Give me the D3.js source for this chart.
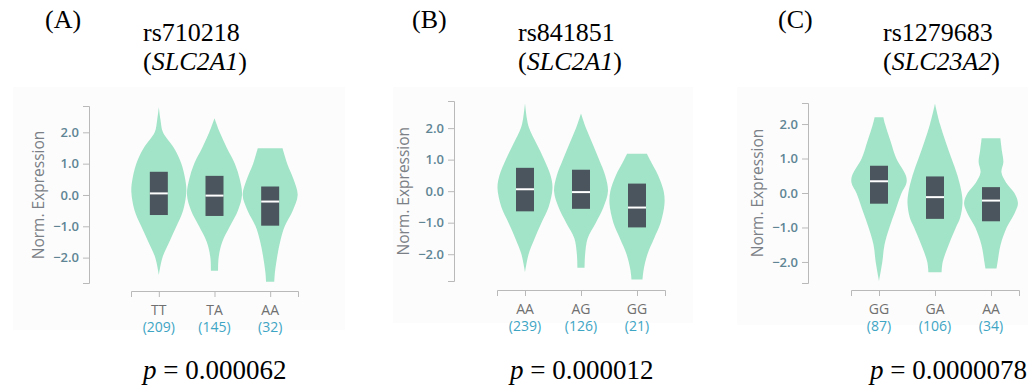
<!DOCTYPE html>
<html>
<head>
<meta charset="utf-8">
<script src="https://cdn.jsdelivr.net/npm/d3@7"></script>
<style>
  body { margin: 0; background: #fff; }
  svg { display: block; }
</style>
</head>
<body>
<div id="chart"></div>
<script>
// Panel texts
var panelLabels = ["(A)", "(B)", "(C)"];
var snps = ["rs710218", "rs841851", "rs1279683"];
var genes = ["SLC2A1", "SLC2A1", "SLC23A2"];
var pValues = ["0.000062", "0.000012", "0.0000078"];

// Genotype groups and sample counts
var genotypes = [["TT", "TA", "AA"], ["AA", "AG", "GG"], ["GG", "GA", "AA"]];
var counts = [[209, 145, 32], [239, 126, 21], [87, 106, 34]];

// Y axis
var yTicks = [-2, -1, 0, 1, 2];
var yDomains = [[-2.81, 2.84], [-2.85, 2.86], [-2.61, 2.61]];

// Box stats [q1, median, q3]
var boxes = [
  [[-0.64, 0.05, 0.74], [-0.67, -0.02, 0.61], [-0.98, -0.21, 0.27]],
  [[-0.64, 0.06, 0.74], [-0.56, -0.03, 0.68], [-1.15, -0.52, 0.24]],
  [[-0.31, 0.34, 0.79], [-0.75, -0.12, 0.48], [-0.82, -0.22, 0.17]]
];

// Violin profiles [value, relative density]
var violins = [
  [
    [[2.8, 0], [2.4, 0.06], [2.0, 0.15], [1.5, 0.55], [1.0, 0.82], [0.5, 0.96], [0.1, 1.0], [-0.5, 0.88], [-1.0, 0.64], [-1.5, 0.38], [-2.0, 0.13], [-2.55, 0]],
    [[2.45, 0], [2.0, 0.19], [1.5, 0.45], [1.0, 0.74], [0.5, 0.92], [0.0, 1.0], [-0.5, 0.85], [-1.0, 0.56], [-1.5, 0.28], [-2.0, 0.15], [-2.42, 0.13]],
    [[1.49, 0.45], [1.0, 0.62], [0.5, 0.85], [0.0, 1.0], [-0.5, 0.82], [-1.0, 0.53], [-1.5, 0.36], [-2.0, 0.25], [-2.5, 0.17], [-2.77, 0.15]]
  ],
  [
    [[2.79, 0], [2.3, 0.07], [2.0, 0.15], [1.5, 0.42], [1.0, 0.7], [0.5, 0.93], [0.1, 1.0], [-0.5, 0.86], [-1.0, 0.6], [-1.5, 0.35], [-2.0, 0.13], [-2.57, 0]],
    [[2.46, 0], [2.0, 0.18], [1.5, 0.42], [1.0, 0.66], [0.5, 0.88], [0.0, 0.98], [-0.5, 0.82], [-1.0, 0.54], [-1.5, 0.24], [-2.0, 0.15], [-2.43, 0.13]],
    [[1.19, 0.36], [1.0, 0.47], [0.5, 0.77], [0.0, 0.97], [-0.4, 1.0], [-1.0, 0.86], [-1.5, 0.62], [-2.0, 0.38], [-2.5, 0.24], [-2.8, 0.2]]
  ],
  [
    [[2.2, 0.16], [2.0, 0.22], [1.5, 0.42], [1.0, 0.63], [0.5, 0.98], [0.3, 1.0], [0.0, 0.82], [-0.5, 0.6], [-1.0, 0.38], [-1.5, 0.2], [-2.0, 0.12], [-2.55, 0]],
    [[2.59, 0], [2.0, 0.18], [1.5, 0.38], [1.0, 0.6], [0.5, 0.82], [0.0, 0.97], [-0.3, 1.0], [-0.7, 0.92], [-1.0, 0.76], [-1.5, 0.5], [-2.0, 0.28], [-2.3, 0.24]],
    [[1.59, 0.34], [1.2, 0.4], [0.9, 0.45], [0.6, 0.38], [0.3, 0.55], [0.0, 0.85], [-0.3, 0.98], [-0.6, 0.85], [-1.0, 0.57], [-1.5, 0.35], [-2.0, 0.24], [-2.19, 0.2]]
  ]
];

var w = 1031;
var h = 385;

// Layout of each panel
var panels = [
  { bg: [13, 87, 332, 243], axisX: 89, yRange: [283, 106], xAxisY: 291, xRange: [131, 298], labelX: 45, titleX: 143, pX: 143 },
  { bg: [393, 87, 300, 236], axisX: 454, yRange: [281, 101], xAxisY: 290, xRange: [497, 665], labelX: 412, titleX: 518, pX: 510 },
  { bg: [737, 87, 291, 238], axisX: 808, yRange: [283, 103], xAxisY: 290, xRange: [851, 1019], labelX: 778, titleX: 883, pX: 870 }
];

var svg = d3.select("#chart").append("svg").attr("width", w).attr("height", h);

var widthScale = d3.scaleLinear().domain([0, 1]).range([0, 27.5]);
var sans = "'Open Sans', sans-serif";
var serif = "'Liberation Serif', 'Times New Roman', serif";

panels.forEach(function (p, i) {
  var g = svg.append("g");

  g.append("rect")
    .attr("x", p.bg[0]).attr("y", p.bg[1])
    .attr("width", p.bg[2]).attr("height", p.bg[3])
    .attr("fill", "#fcfcfc");

  var y = d3.scaleLinear().domain(yDomains[i]).range(p.yRange);
  var x = d3.scalePoint().domain(genotypes[i]).range(p.xRange).padding(0.5);

  // violins
  genotypes[i].forEach(function (gt, j) {
    var cx = x(gt);
    var area = d3.area()
      .y(function (d) { return y(d[0]); })
      .x0(function (d) { return cx - widthScale(d[1]); })
      .x1(function (d) { return cx + widthScale(d[1]); })
      .curve(d3.curveCatmullRom);
    g.append("path")
      .datum(violins[i][j])
      .attr("d", area)
      .attr("fill", "#a2e4c8");

    var b = boxes[i][j];
    g.append("rect")
      .attr("x", cx - 9)
      .attr("y", y(b[2]))
      .attr("width", 18)
      .attr("height", y(b[0]) - y(b[2]))
      .attr("fill", "#4b555d");
    g.append("line")
      .attr("x1", cx - 9).attr("x2", cx + 9)
      .attr("y1", y(b[1])).attr("y2", y(b[1]))
      .attr("stroke", "#fff")
      .attr("stroke-width", 2);
  });

  // y axis
  var yAxis = g.append("g")
    .attr("transform", "translate(" + p.axisX + ",0)")
    .call(d3.axisLeft(y).tickValues(yTicks).tickSize(6).tickSizeOuter(6).tickFormat(d3.format(".1f")));
  yAxis.selectAll("path, line").attr("stroke", "#b9b9b9");
  yAxis.selectAll("text")
    .attr("fill", "#5f8595")
    .style("font-family", sans)
    .style("font-size", "13px")
    .style("font-weight", "600")
    .attr("x", -10);

  g.append("text")
    .attr("transform", "translate(" + (p.axisX - 50) + "," + y(0) + ") rotate(-90)")
    .attr("text-anchor", "middle")
    .attr("dy", "0.35em")
    .attr("fill", "#7b8086")
    .style("font-family", sans)
    .style("font-size", "15.5px")
    .text("Norm. Expression");

  // x axis
  var xAxis = g.append("g")
    .attr("transform", "translate(0," + p.xAxisY + ")")
    .call(d3.axisBottom(x).tickSize(6).tickSizeOuter(6).tickFormat(function () { return ""; }));
  xAxis.selectAll("path, line").attr("stroke", "#b9b9b9");

  genotypes[i].forEach(function (gt, j) {
    g.append("text")
      .attr("x", x(gt)).attr("y", p.xAxisY + 24)
      .attr("text-anchor", "middle")
      .attr("fill", "#707070")
      .style("font-family", sans)
      .style("font-size", "14px")
      .text(gt);
    g.append("text")
      .attr("x", x(gt)).attr("y", p.xAxisY + 41)
      .attr("text-anchor", "middle")
      .attr("fill", "#3ea5c4")
      .style("font-family", sans)
      .style("font-size", "14px")
      .text("(" + counts[i][j] + ")");
  });

  // titles
  g.append("text")
    .attr("x", p.labelX).attr("y", 28)
    .style("font-family", serif).style("font-size", "26px")
    .text(panelLabels[i]);
  g.append("text")
    .attr("x", p.titleX).attr("y", 41)
    .style("font-family", serif).style("font-size", "26px")
    .text(snps[i]);
  var gene = g.append("text")
    .attr("x", p.titleX).attr("y", 70)
    .style("font-family", serif).style("font-size", "26px");
  gene.append("tspan").text("(");
  gene.append("tspan").style("font-style", "italic").text(genes[i]);
  gene.append("tspan").text(")");

  var pt = g.append("text")
    .attr("x", p.pX).attr("y", 379)
    .style("font-family", serif).style("font-size", "27px");
  pt.append("tspan").style("font-style", "italic").text("p");
  pt.append("tspan").text(" = " + pValues[i]);
});
</script>
</body>
</html>
